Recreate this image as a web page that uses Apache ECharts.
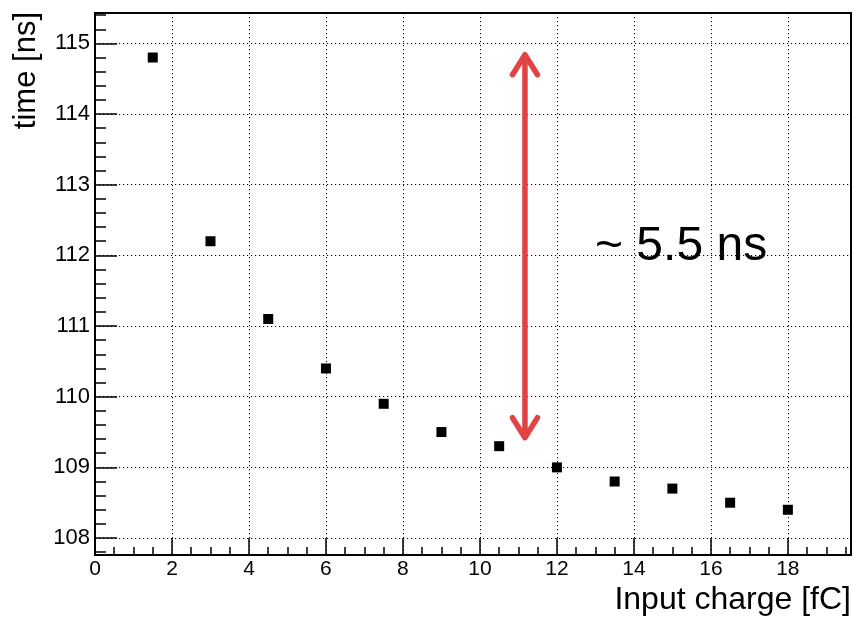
<!DOCTYPE html>
<html>
<head>
<meta charset="utf-8">
<script src="https://cdn.jsdelivr.net/npm/echarts@6/dist/echarts.min.js"></script>
<style>
  html, body { margin: 0; padding: 0; background: #fff; }
  #chart { width: 853px; height: 619px; }
</style>
</head>
<body>
<div id="chart"></div>
<script>
// data
const charge = [1.5, 3, 4.5, 6, 7.5, 9, 10.5, 12, 13.5, 15, 16.5, 18];
const time = [114.8, 112.2, 111.1, 110.4, 109.9, 109.5, 109.3, 109.0, 108.8, 108.7, 108.5, 108.4];

// red double arrow: x, low end, high end
const arrowX = 11.17;
const arrowY = [109.42, 114.84];
const arrowText = '~ 5.5 ns';

const xRange = [0, 19.64];
const yRange = [107.76, 115.43];

const font = 'Liberation Sans, Helvetica, Arial, sans-serif';
const red = '#e04343';

const chart = echarts.init(document.getElementById('chart'));

const dotted = {
  show: true,
  lineStyle: { color: '#000', width: 1, type: [1.2, 2.8] }
};

const option = {
  animation: false,
  backgroundColor: '#fff',
  grid: {
    left: 95, right: 2, top: 13, bottom: 64,
    show: true, borderColor: '#000', borderWidth: 2
  },
  xAxis: [
    {
      type: 'value',
      min: xRange[0], max: xRange[1], interval: 2,
      position: 'bottom',
      axisLine: { onZero: false, lineStyle: { color: '#000', width: 2 } },
      axisTick: { inside: true, length: 17, lineStyle: { color: '#000', width: 1.5 } },
      axisLabel: {
        color: '#000', fontSize: 21, fontFamily: font, margin: 4,
        showMaxLabel: false,
        formatter: v => (v % 2 === 0 ? String(v) : '')
      },
      splitLine: dotted
    },
    {
      // minor ticks
      type: 'value',
      min: xRange[0], max: xRange[1], interval: 0.5,
      position: 'bottom',
      axisLine: { show: false, onZero: false },
      axisTick: { inside: true, length: 8, lineStyle: { color: '#000', width: 1.5 } },
      axisLabel: { show: false },
      splitLine: { show: false }
    }
  ],
  yAxis: [
    {
      type: 'value',
      min: yRange[0], max: yRange[1], splitNumber: 7,
      position: 'left',
      axisLine: { onZero: false, lineStyle: { color: '#000', width: 2 } },
      axisTick: { inside: true, length: 22, lineStyle: { color: '#000', width: 1.5 } },
      axisLabel: {
        color: '#000', fontSize: 22, fontFamily: font, margin: 5,
        showMinLabel: false, showMaxLabel: false,
        formatter: v => (Math.abs(v - Math.round(v)) < 1e-6 ? String(Math.round(v)) : '')
      },
      splitLine: dotted
    },
    {
      // minor ticks
      type: 'value',
      min: yRange[0], max: yRange[1], splitNumber: 38,
      position: 'left',
      axisLine: { show: false, onZero: false },
      axisTick: { inside: true, length: 11, lineStyle: { color: '#000', width: 1.5 } },
      axisLabel: { show: false },
      splitLine: { show: false }
    }
  ],
  graphic: [
    {
      type: 'text',
      x: 26, y: 12,
      rotation: Math.PI / 2,
      style: {
        text: 'time [ns]', fontSize: 31, fontFamily: font, fill: '#000',
        align: 'right', verticalAlign: 'middle'
      }
    },
    {
      type: 'text',
      x: 851, y: 600.5,
      style: {
        text: 'Input charge [fC]', fontSize: 32, fontFamily: font, fill: '#000',
        align: 'right', verticalAlign: 'middle'
      }
    },
    {
      type: 'text',
      x: 595, y: 247,
      style: {
        text: arrowText, fontSize: 48, fontFamily: font, fill: '#000',
        align: 'left', verticalAlign: 'middle'
      }
    }
  ],
  series: [
    {
      type: 'scatter',
      xAxisIndex: 0, yAxisIndex: 0,
      symbol: 'rect',
      symbolSize: 10,
      itemStyle: { color: '#000', opacity: 1 },
      data: charge.map((c, i) => [c, time[i]])
    },
    {
      type: 'custom',
      xAxisIndex: 0, yAxisIndex: 0,
      clip: false,
      data: [[arrowX, arrowY[0], arrowY[1]]],
      encode: { x: 0, y: [1, 2] },
      renderItem: function (params, api) {
        const lo = api.coord([api.value(0), api.value(1)]);
        const hi = api.coord([api.value(0), api.value(2)]);
        const x = hi[0];
        const dx = 12.5, dy = 20;
        const stroke = { stroke: red, lineWidth: 5.5, fill: 'none', lineCap: 'round', lineJoin: 'round' };
        return {
          type: 'group',
          children: [
            { type: 'line', shape: { x1: x, y1: hi[1] + 2, x2: x, y2: lo[1] - 2 }, style: stroke },
            { type: 'polyline', shape: { points: [[x - dx, hi[1] + dy], [x, hi[1]], [x + dx, hi[1] + dy]] }, style: stroke },
            { type: 'polyline', shape: { points: [[x - dx, lo[1] - dy], [x, lo[1]], [x + dx, lo[1] - dy]] }, style: stroke }
          ]
        };
      }
    }
  ]
};

chart.setOption(option);
</script>
</body>
</html>
